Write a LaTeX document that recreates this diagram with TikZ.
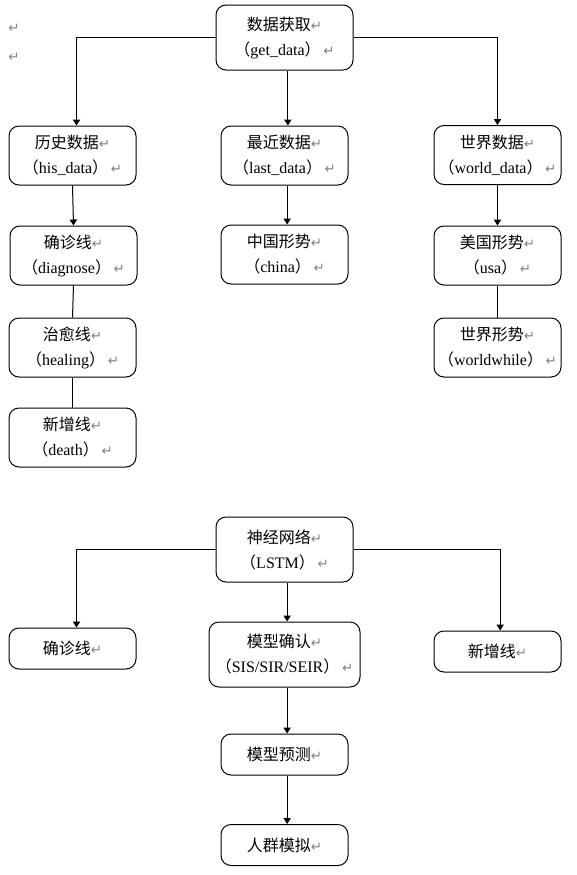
\documentclass[tikz,border=0pt]{standalone}
\usepackage{fontspec}
\setmainfont{Liberation Serif}
\newfontfamily\cjk{Noto Sans CJK SC}
\newfontfamily\symfont{DejaVu Sans}
\usepackage{xcolor}
\usepackage{tikz}
\usetikzlibrary{arrows.meta}
\newcommand{\zh}[1]{{\cjk #1}}
\newcommand{\pmark}{{\symfont\color{gray}\fontsize{10pt}{10pt}\selectfont ↵}}
\tikzset{ data_box/.style = {rectangle, rounded corners=7.5pt, draw, align=center, line width=0.75pt, inner sep=0pt, font=\fontsize{12pt}{18.75pt}\selectfont} }
\tikzset{ wide_box/.style = {data_box, minimum width=102.75pt, minimum height=48.75pt} }
\tikzset{ std_box/.style = {data_box, minimum width=95.25pt, minimum height=44.25pt} }
\tikzset{ low_box/.style = {data_box, minimum width=95.25pt, minimum height=30.75pt} }
\tikzset{ big_box/.style = {data_box, minimum width=113.25pt, minimum height=48.75pt} }
\tikzset{ flow/.style = {line width=0.75pt, -{Triangle[length=4.5pt,width=5.5pt]}} }
\tikzset{ link/.style = {line width=0.75pt} }

\begin{document}
\begin{tikzpicture}[x=0.75pt, y=-0.75pt]
            \useasboundingbox (0,0) rectangle (577,875);
            % stray marks
            \node (s1) at (14,28) {\pmark};
            \node (s2) at (14,57) {\pmark};
            % upper tree
            \node[wide_box] (0) at (284.5,37.5) {\zh{数据获取}\pmark\\\zh{（}get\_data\zh{）}\,\pmark};
            \node[std_box] (1) at (72.5,155.5) {\zh{历史数据}\pmark\\\zh{（}his\_data\zh{）}\,\pmark};
            \node[std_box] (2) at (284.5,155.5) {\zh{最近数据}\pmark\\\zh{（}last\_data\zh{）}\,\pmark};
            \node[std_box] (3) at (497.5,155) {\zh{世界数据}\pmark\\\zh{（}world\_data\zh{）}\,\pmark};
            \node[std_box] (4) at (73.5,255.5) {\zh{确诊线}\pmark\\\zh{（}diagnose\zh{）}\,\pmark};
            \node[std_box] (5) at (284.5,254.5) {\zh{中国形势}\pmark\\\zh{（}china\zh{）}\,\pmark};
            \node[std_box] (6) at (497.5,255.5) {\zh{美国形势}\pmark\\\zh{（}usa\zh{）}\,\pmark};
            \node[std_box] (7) at (72.5,347.5) {\zh{治愈线}\pmark\\\zh{（}healing\zh{）}\,\pmark};
            \node[std_box] (8) at (497.5,347.5) {\zh{世界形势}\pmark\\\zh{（}worldwhile\zh{）}\,\pmark};
            \node[std_box] (9) at (72.5,437.5) {\zh{新增线}\pmark\\\zh{（}death\zh{）}\,\pmark};
            \draw[flow] (0.west) -| ([xshift=3pt]1.north);
            \draw[flow] ([xshift=2.5pt]0.south) -- ([xshift=2.5pt]2.north);
            \draw[flow] (0.east) -| (3.north);
            \draw[flow] (1.south) -- (4.north);
            \draw[link] (4.south) -- (7.north);
            \draw[link] (7.south) -- (9.north);
            \draw[flow] ([xshift=2pt]2.south) -- ([xshift=2pt]5.north);
            \draw[flow] (3.south) -- (6.north);
            \draw[link] (6.south) -- (8.north);
            % lower tree
            \node[wide_box] (10) at (284.5,549.5) {\zh{神经网络}\pmark\\\zh{（}LSTM\zh{）}\,\pmark};
            \node[low_box] (11) at (72.5,648.5) {\zh{确诊线}\pmark};
            \node[big_box] (12) at (284.5,654.5) {\zh{模型确认}\pmark\\\zh{（}SIS/SIR/SEIR\zh{）}\,\pmark};
            \node[low_box] (13) at (497.5,651.5) {\zh{新增线}\pmark};
            \node[low_box] (14) at (284.5,754.5) {\zh{模型预测}\pmark};
            \node[low_box] (15) at (284.5,845) {\zh{人群模拟}\pmark};
            \draw[flow] (10.west) -| ([xshift=3pt]11.north);
            \draw[flow] ([xshift=2pt]10.south) -- ([xshift=2pt]12.north);
            \draw[flow] (10.east) -| ([xshift=2pt]13.north);
            \draw[flow] ([xshift=2pt]12.south) -- ([xshift=2pt]14.north);
            \draw[flow] ([xshift=2pt]14.south) -- ([xshift=2pt]15.north);
        \end{tikzpicture}
\end{document}
